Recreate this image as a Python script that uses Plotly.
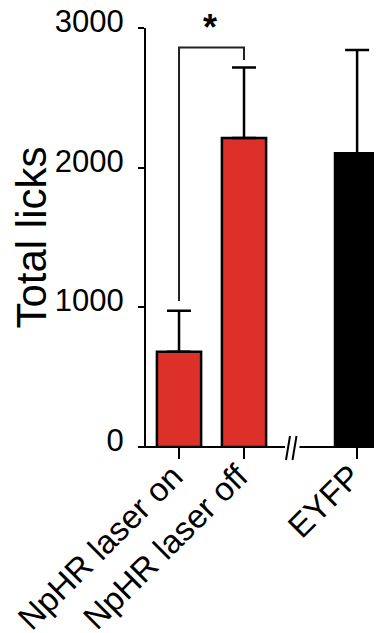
import plotly.graph_objects as go

categories = ["NpHR laser on", "NpHR laser off", "EYFP"]
means = [682, 2212, 2103]
sem = [294, 506, 739]
bar_colors = ["#DC3028", "#DC3028", "#000000"]
y_ticks = [0, 1000, 2000, 3000]
y_ticktext = ["0", "1000", "2000", "3000"]

# layout helpers (page body has an 8px default margin)
x_pos = [0, 1, 2.74]
OFF = 8
W, H = 382 - OFF, 633 - OFF
ML, MR, MT, MB = 146 - OFF, 0, 28 - OFF, 186
PW, PH = W - ML - MR, H - MT - MB


def px(xp):
    return (xp - OFF - ML) / PW


def py(yp):
    return (H - MB - (yp - OFF)) / PH


FONT = "Liberation Sans, Arial, sans-serif"

fig = go.Figure()
fig.add_trace(go.Bar(
    x=x_pos, y=means, width=0.68,
    marker=dict(color=bar_colors, line=dict(color="black", width=2.5)),
    error_y=dict(type="data", symmetric=False, array=sem, arrayminus=[0, 0, 0],
                 color="black", thickness=2.5, width=12),
))

shapes = []
# x axis line with break
shapes.append(dict(type="line", xref="paper", yref="paper", x0=-0.03, x1=px(285), y0=0, y1=0,
                   line=dict(color="black", width=2)))
shapes.append(dict(type="line", xref="paper", yref="paper", x0=px(299.5), x1=1.0, y0=0, y1=0,
                   line=dict(color="black", width=2)))
for bx in (286, 292.5):
    shapes.append(dict(type="line", xref="paper", yref="paper",
                       x0=px(bx), y0=py(460), x1=px(bx + 4), y1=py(436),
                       line=dict(color="black", width=2)))
# significance bracket
bracket_y = [1045, 2860, 2770]
shapes.append(dict(type="path", xref="x", yref="y",
                   path=f"M {x_pos[0]},{bracket_y[0]} L {x_pos[0]},{bracket_y[1]} "
                        f"L {x_pos[1]},{bracket_y[1]} L {x_pos[1]},{bracket_y[2]}",
                   line=dict(color="#222222", width=2)))

fig.update_layout(
    width=W, height=H,
    margin=dict(l=ML, r=MR, t=MT, b=MB, pad=0),
    paper_bgcolor="white", plot_bgcolor="white",
    showlegend=False,
    font=dict(family=FONT, color="black"),
    shapes=shapes,
    annotations=[dict(x=(x_pos[0] + x_pos[1]) / 2 - 0.02, y=py(27), xref="x", yref="paper",
                      text="<b>*</b>", showarrow=False, font=dict(size=36, family=FONT),
                      yanchor="middle")],
    xaxis=dict(range=[-0.508, 3.123], tickvals=x_pos, ticktext=categories, tickangle=-45,
               ticks="outside", ticklen=11, tickwidth=2, tickcolor="black",
               showline=False, showgrid=False, zeroline=False, automargin=False,
               ticklabelstandoff=-15, ticklabelshift=-6, ticklabeloverflow="allow",
               tickfont=dict(size=33, family=FONT)),
    yaxis=dict(range=[0, 3000], tickvals=y_ticks, ticktext=y_ticktext,
               ticks="outside", ticklen=6, tickwidth=2, tickcolor="black",
               showline=True, linewidth=2, linecolor="black",
               showgrid=False, zeroline=False, automargin=False,
               tickfont=dict(size=31, family=FONT),
               ticklabelstandoff=8, ticklabelshift=-7, ticklabeloverflow="allow",
               title=dict(text="Total licks", font=dict(size=42, family=FONT), standoff=20)),
)

fig.write_html("out.html")
